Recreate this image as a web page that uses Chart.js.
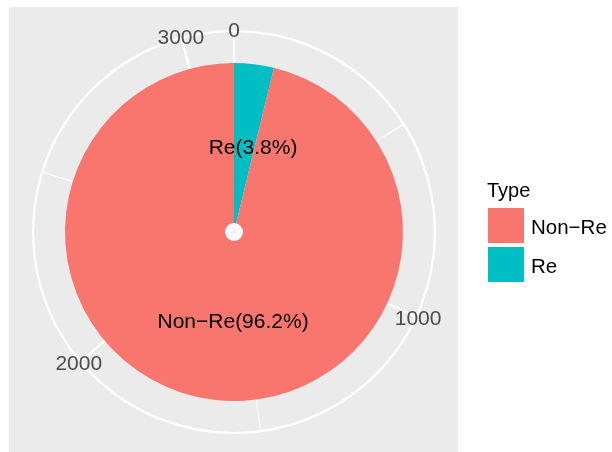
<!DOCTYPE html>
<html><head><meta charset="utf-8">
<script src="https://cdn.jsdelivr.net/npm/chart.js@4/dist/chart.umd.min.js"></script>
<style>html,body{margin:0;padding:0;background:#fff;}#wrap{width:612px;height:452px;position:relative;}</style>
</head><body><div id="wrap"><canvas id="c" width="612" height="452"></canvas></div>
<script>
const categories = ["Re", "Non−Re"];
const counts = [119, 3013];
const sliceColors = ["#00BFC4", "#F8766D"];
const sliceLabels = ["Re(3.8%)", "Non−Re(96.2%)"];
const legendTitle = "Type";
const legendOrder = ["Non−Re", "Re"];
const majorTicks = [0, 1000, 2000, 3000];
const minorTicks = [500, 1500, 2500];

const FONT = '"Liberation Sans", Arial, Helvetica, sans-serif';

const polarDecor = {
  id: 'polarDecor',
  beforeDraw(chart, args, opts) {
    const ctx = chart.ctx;
    const arc = chart.getDatasetMeta(0).data[0];
    if (!arc) return;
    const cx = arc.x, cy = arc.y;
    const total = counts.reduce((a, b) => a + b, 0);
    const ang = v => -Math.PI / 2 + v / total * 2 * Math.PI;
    ctx.save();
    ctx.fillStyle = '#FFFFFF';
    ctx.fillRect(0, 0, chart.width, chart.height);
    ctx.fillStyle = '#EBEBEB';
    ctx.fillRect(9, 7, 449, 445);
    ctx.strokeStyle = '#FFFFFF';
    const R = opts.gridRadius;
    ctx.lineWidth = 1.1;
    minorTicks.forEach(v => {
      const a = ang(v);
      ctx.beginPath(); ctx.moveTo(cx, cy);
      ctx.lineTo(cx + R * Math.cos(a), cy + R * Math.sin(a)); ctx.stroke();
    });
    ctx.lineWidth = 2.2;
    majorTicks.forEach(v => {
      const a = ang(v);
      ctx.beginPath(); ctx.moveTo(cx, cy);
      ctx.lineTo(cx + R * Math.cos(a), cy + R * Math.sin(a)); ctx.stroke();
    });
    ctx.beginPath(); ctx.arc(cx, cy, R, 0, Math.PI * 2); ctx.stroke();
    ctx.restore();
  },
  afterDatasetsDraw(chart, args, opts) {
    const ctx = chart.ctx;
    const meta = chart.getDatasetMeta(0);
    const arc = meta.data[0];
    const cx = arc.x, cy = arc.y, pr = arc.outerRadius;
    const total = counts.reduce((a, b) => a + b, 0);
    const ang = v => -Math.PI / 2 + v / total * 2 * Math.PI;
    ctx.save();
    // center hole
    ctx.fillStyle = '#FFFFFF';
    ctx.beginPath(); ctx.arc(cx, cy, 9, 0, Math.PI * 2); ctx.fill();
    ctx.strokeStyle = '#E4E4E4'; ctx.lineWidth = 0.6;
    for (let k = 0; k < 7; k++) {
      const a = k * Math.PI * 2 / 7 + 0.3;
      ctx.beginPath(); ctx.moveTo(cx, cy); ctx.lineTo(cx + 8 * Math.cos(a), cy + 8 * Math.sin(a)); ctx.stroke();
    }
    // slice labels
    ctx.font = '21px ' + FONT;
    ctx.fillStyle = '#000000';
    ctx.textAlign = 'center';
    ctx.textBaseline = 'alphabetic';
    sliceLabels.forEach((t, i) => {
      const p = opts.labelPos[i];
      const a = -Math.PI / 2 + p.deg * Math.PI / 180;
      const x = cx + p.r * pr * Math.cos(a);
      const y = cy + p.r * pr * Math.sin(a);
      ctx.fillText(t, x, y + 7.5);
    });
    // theta tick labels
    ctx.fillStyle = '#4D4D4D';
    majorTicks.forEach(v => {
      const a = ang(v);
      const x = cx + opts.labelRadius * Math.cos(a);
      const y = cy + opts.labelRadius * Math.sin(a);
      ctx.fillText(String(v), x, y + 7.5);
    });
    // legend
    ctx.textAlign = 'left';
    ctx.fillStyle = '#000000';
    ctx.font = '20px ' + FONT;
    ctx.fillText(legendTitle, 487, 197);
    legendOrder.forEach((name, j) => {
      const idx = categories.indexOf(name);
      const y0 = 208 + j * 39;
      ctx.fillStyle = sliceColors[idx];
      ctx.fillRect(488, y0, 36, 35);
      ctx.fillStyle = '#000000';
      ctx.font = '20.5px ' + FONT;
      ctx.fillText(name, 531, y0 + 25.5);
    });
    ctx.restore();
  }
};

new Chart(document.getElementById('c'), {
  type: 'pie',
  data: {
    labels: categories,
    datasets: [{
      data: counts,
      backgroundColor: sliceColors,
      borderWidth: 0,
      hoverOffset: 0,
      offset: 0
    }]
  },
  options: {
    responsive: false,
    devicePixelRatio: 1,
    animation: false,
    radius: 169,
    layout: { padding: { left: 34, right: 178, top: 32, bottom: 20 } },
    plugins: {
      legend: { display: false },
      tooltip: { enabled: false },
      polarDecor: {
        gridRadius: 201,
        labelRadius: 203,
        labelPos: [{ deg: 12.5, r: 0.52 }, { deg: 180.6, r: 0.523 }]
      }
    }
  },
  plugins: [polarDecor]
});
</script>
</body></html>
